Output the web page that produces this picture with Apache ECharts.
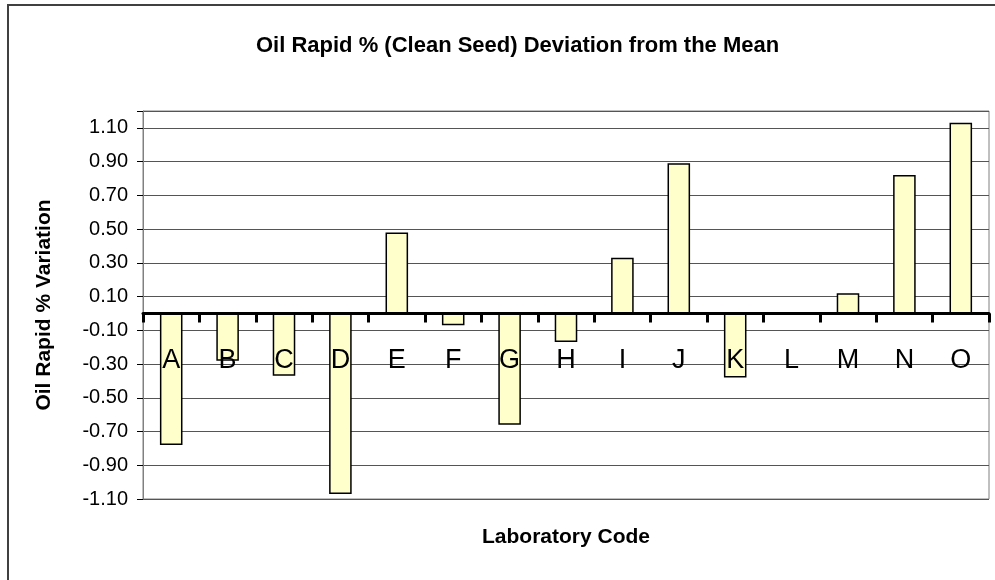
<!DOCTYPE html>
<html>
<head>
<meta charset="utf-8">
<script src="https://cdn.jsdelivr.net/npm/echarts@6/dist/echarts.min.js"></script>
<style>
html,body{margin:0;padding:0;background:#fff;}
#chart{width:995px;height:580px;}
</style>
</head>
<body>
<div id="chart"></div>
<script>
const categories = ['A','B','C','D','E','F','G','H','I','J','K','L','M','N','O'];
const deviations = [-0.78, -0.28, -0.37, -1.07, 0.48, -0.07, -0.66, -0.17, 0.33, 0.89, -0.38, 0, 0.12, 0.82, 1.13];
const titleText = 'Oil Rapid % (Clean Seed) Deviation from the Mean';
const xAxisName = 'Laboratory Code';
const yAxisName = 'Oil Rapid % Variation';
const yMin = -1.1, yMax = 1.2, yStep = 0.2;

const FONT = 'Arial, "Liberation Sans", sans-serif';
const chart = echarts.init(document.getElementById('chart'), null, {renderer:'canvas'});
chart.setOption({
  animation: false,
  backgroundColor: '#fff',
  graphic: [{
    type: 'rect', z: -10, silent: true,
    shape: {x: 8, y: 5, width: 1000, height: 600},
    style: {fill: 'none', stroke: '#404040', lineWidth: 2}
  }],
  title: {
    text: titleText,
    left: 251,
    top: 30,
    textStyle: {fontFamily: FONT, fontSize: 22, fontWeight: 'bold', color: '#000'}
  },
  grid: {
    left: 143, right: 6, top: 111, bottom: 81,
    outerBoundsMode: 'none',
    containLabel: false,
    show: true, borderColor: '#808080', borderWidth: 1, backgroundColor: 'transparent'
  },
  xAxis: {
    type: 'category',
    data: categories,
    z: 10,
    name: xAxisName,
    nameLocation: 'middle',
    nameGap: 28,
    nameTextStyle: {fontFamily: FONT, fontSize: 21, fontWeight: 'bold', color: '#000', verticalAlign: 'top'},
    axisLine: {onZero: true, lineStyle: {color: '#000', width: 3}},
    axisTick: {show: true, alignWithLabel: false, length: 9, lineStyle: {color: '#000', width: 3}},
    axisLabel: {fontFamily: FONT, fontSize: 27, color: '#000', margin: -152, interval: 0},
    splitLine: {show: false}
  },
  yAxis: {
    type: 'value',
    min: yMin, max: yMax, interval: yStep,
    name: yAxisName,
    nameLocation: 'middle',
    nameRotate: 90,
    nameGap: 88,
    nameTextStyle: {fontFamily: FONT, fontSize: 21, fontWeight: 'bold', color: '#000'},
    axisLine: {show: true, lineStyle: {color: '#808080', width: 1}},
    axisTick: {show: true, length: 6, lineStyle: {color: '#000', width: 1}},
    axisLabel: {
      fontFamily: FONT, fontSize: 20, color: '#000', margin: 15,
      formatter: function (v) { return v > yMax - 0.05 ? '' : v.toFixed(2); }
    },
    splitLine: {show: true, lineStyle: {color: '#555', width: 1}}
  },
  series: [{
    type: 'bar',
    data: deviations,
    barWidth: '40%',
    itemStyle: {color: '#FFFFCC', borderColor: '#000', borderWidth: 1.5}
  }]
});
</script>
</body>
</html>
